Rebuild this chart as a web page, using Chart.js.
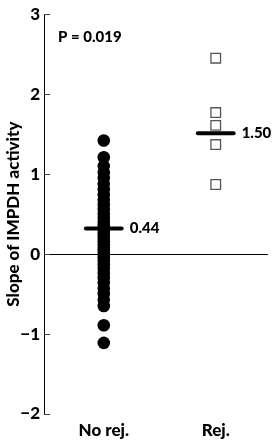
<!DOCTYPE html>
<html>
<head>
<meta charset="utf-8">
<script src="https://cdn.jsdelivr.net/npm/chart.js@4"></script>
<style>
  html, body { margin: 0; padding: 0; background: #fff; }
  #wrap { width: 276px; height: 442px; }
</style>
</head>
<body>
<div id="wrap"><canvas id="myChart" width="276" height="442"></canvas></div>
<script>
// data start
const groups = ['No rej.', 'Rej.'];
const noRej = [1.42, 1.21, 1.10, 1.02, 0.95, 0.88, 0.81, 0.74, 0.68, 0.62, 0.56, 0.50,
  0.45, 0.40, 0.36, 0.32, 0.28, 0.24, 0.20, 0.16, 0.12, 0.08, 0.04, 0.00, -0.04, -0.08,
  -0.13, -0.18, -0.24, -0.30, -0.36, -0.43, -0.50, -0.57, -0.65, -0.89, -1.11];
const rej = [2.45, 1.77, 1.61, 1.37, 0.87];
const meanLines = [0.32, 1.51];
const meanLabels = ['0.44', '1.50'];
const yTicks = [-2, -1, 0, 1, 2, 3];
const pText = 'P = 0.019';
// data end

const FONT = 'Lato, "DejaVu Sans", sans-serif';

const meanSets = meanLines.map((v, i) => ({
  type: 'line',
  data: [{x: i - 0.16, y: v}, {x: i + 0.16, y: v}],
  borderColor: '#000',
  borderWidth: 4,
  pointRadius: 0,
  borderCapStyle: 'round',
  order: 0
}));

// inward ticks + value labels
const extras = {
  id: 'extras',
  afterDraw(chart) {
    const c = chart.ctx, y = chart.scales.y, x = chart.scales.x;
    const left = chart.chartArea.left;
    c.save();
    c.strokeStyle = '#444';
    c.lineWidth = 1;
    yTicks.forEach(t => {
      const py = Math.round(y.getPixelForValue(t)) + 0.5;
      c.beginPath();
      c.moveTo(left, py);
      c.lineTo(left + 6, py);
      c.stroke();
    });
    c.fillStyle = '#000';
    c.font = '900 15px ' + FONT;
    c.textBaseline = 'middle';
    c.textAlign = 'left';
    meanLines.forEach((v, i) => {
      c.fillText(meanLabels[i], x.getPixelForValue(i + 0.16) + 8, y.getPixelForValue(v));
    });
    c.fillText(pText, 58, 37);
    c.restore();
  }
};

new Chart(document.getElementById('myChart'), {
  type: 'scatter',
  data: {
    datasets: [{
      data: noRej.map(v => ({x: 0, y: v})),
      pointStyle: 'circle',
      pointRadius: 6.3,
      backgroundColor: '#000',
      borderColor: '#000',
      borderWidth: 0,
      order: 1
    }, {
      data: rej.map(v => ({x: 1, y: v})),
      pointStyle: 'rect',
      pointRadius: 6.8,
      backgroundColor: '#fff',
      borderColor: '#555',
      borderWidth: 1.3,
      order: 1
    }, ...meanSets]
  },
  options: {
    responsive: false,
    animation: false,
    layout: { padding: { top: 7, right: 0, left: 0, bottom: 0 } },
    plugins: {
      legend: { display: false },
      tooltip: { enabled: false }
    },
    scales: {
      x: {
        type: 'linear',
        min: -0.534,
        max: 1.466,
        afterBuildTicks: s => { s.ticks = [{value: 0}, {value: 1}]; },
        afterFit: s => { s.height = 28; },
        border: { display: false },
        grid: { display: false, drawTicks: false },
        ticks: {
          padding: 6,
          color: '#000',
          font: { family: FONT, size: 17, weight: '900' },
          callback: v => groups[v]
        }
      },
      y: {
        min: -2,
        max: 3,
        afterBuildTicks: s => { s.ticks = yTicks.map(v => ({value: v})); },
        afterFit: s => { s.width = 44; },
        border: { display: true, color: '#000', width: 1 },
        grid: {
          drawTicks: false,
          color: c => c.tick && c.tick.value === 0 ? '#000' : 'rgba(0,0,0,0)',
          lineWidth: 1
        },
        ticks: {
          padding: 4,
          color: '#000',
          font: { family: FONT, size: 17, weight: '900' },
          callback: v => v < 0 ? '\u2212' + Math.abs(v) : String(v)
        },
        title: {
          display: true,
          text: 'Slope of IMPDH activity',
          color: '#000',
          font: { family: FONT, size: 17, weight: '900' },
          padding: 3
        }
      }
    }
  },
  plugins: [extras]
});
</script>
</body>
</html>
